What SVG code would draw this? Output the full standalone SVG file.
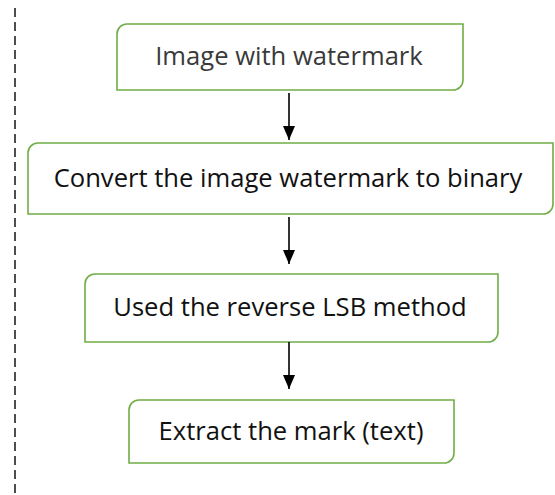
<svg xmlns="http://www.w3.org/2000/svg" width="555" height="495" viewBox="0 0 555 495">
<style>
.box{fill:#fff;stroke:#70AD47;stroke-width:1.6}
.lbl{font-family:"Open Sans","Noto Sans",sans-serif;font-size:25.6px;text-anchor:middle}
.conn{stroke:#000;stroke-width:1.6;fill:none}
</style>
<defs>
<marker id="ah" markerWidth="14" markerHeight="12" refX="14" refY="6" orient="auto" markerUnits="userSpaceOnUse" viewBox="0 0 14 12">
<path d="M0,0 L14,6 L0,12 Z" fill="#000"/>
</marker>
</defs>
<rect width="555" height="495" fill="#fff"/>
<line x1="15" y1="8" x2="15" y2="495" stroke="#222" stroke-width="1.6" stroke-dasharray="9 5"/>
<g id="n1">
<path class="box" d="M127,24 H463 V80 A10,10 0 0 1 453,90 H117 V34 A10,10 0 0 1 127,24 Z"/>
<text class="lbl" x="289" y="65" fill="#3a3a3a">Image with watermark</text>
</g>
<g id="n2">
<path class="box" d="M38,143 H553 V204 A10,10 0 0 1 543,214 H28 V153 A10,10 0 0 1 38,143 Z"/>
<text class="lbl" x="288" y="187" fill="#111">Convert the image watermark to binary</text>
</g>
<g id="n3">
<path class="box" d="M95,274 H498 V332 A10,10 0 0 1 488,342 H85 V284 A10,10 0 0 1 95,274 Z"/>
<text class="lbl" x="290" y="316" fill="#111">Used the reverse LSB method</text>
</g>
<g id="n4">
<path class="box" d="M139,400 H454 V453 A10,10 0 0 1 444,463 H129 V410 A10,10 0 0 1 139,400 Z"/>
<text class="lbl" x="291" y="440" fill="#111">Extract the mark (text)</text>
</g>
<g id="connectors">
<line class="conn" x1="289" y1="93" x2="289" y2="140" marker-end="url(#ah)"/>
<line class="conn" x1="289" y1="217" x2="289" y2="264" marker-end="url(#ah)"/>
<line class="conn" x1="289" y1="342" x2="289" y2="389" marker-end="url(#ah)"/>
</g>
</svg>
